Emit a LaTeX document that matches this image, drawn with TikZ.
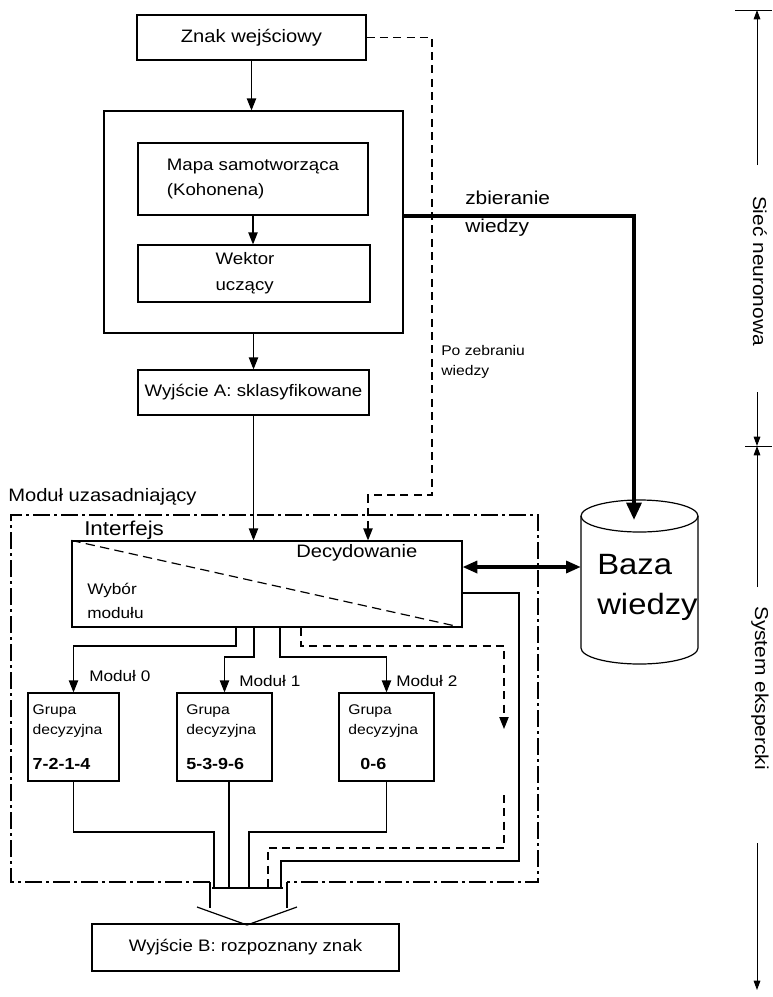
\documentclass[tikz,border=0pt]{standalone}
\usepackage{fontspec}
\setmainfont[FakeStretch=1.12]{Liberation Sans}
\usetikzlibrary{arrows.meta,calc}
\begin{document}
\begin{tikzpicture}[x=0.75pt,y=-0.75pt,
  font=\fontsize{12.5}{15}\selectfont,
  box/.style={draw, line width=0.9pt, inner sep=0pt},
  gbox/.style={draw, line width=0.9pt, minimum height=66pt, inner ysep=0pt, align=left, font=\fontsize{10.5}{15}\selectfont},
  tip/.style={-{Triangle[length=9pt,width=7pt]}},
  arr/.style={line width=0.9pt, tip},
  ln/.style={line width=0.9pt},
  dsh/.style={line width=0.9pt, dash pattern=on 6pt off 4pt},
  dashdot/.style={line width=1pt, dash pattern=on 13pt off 3pt on 2pt off 3pt},
  thickarr/.style={line width=3pt, -{Triangle[length=13pt,width=11pt]}},
  lbl/.style={inner sep=0pt},
  scl/.style={line width=0.7pt},
  stip/.style={-{Triangle[length=7pt,width=5pt]}}
]
\useasboundingbox (0,0) rectangle (772,997);

% --- nodes ---
\node[box, minimum width=171.75pt, minimum height=33.75pt, font=\fontsize{13.5}{16}\selectfont] (znak) at (251.5,37.5) {Znak wejściowy};
\node[box, minimum width=224.25pt, minimum height=166.5pt] (nn) at (253.5,222) {};
\node[box, minimum width=172.5pt, minimum height=54pt, align=left, font=\fontsize{12.5}{18.75}\selectfont] (mapa) at (253,179) {Mapa samotworząca\\(Kohonena)};
\node[box, minimum width=174pt, minimum height=42.75pt, align=left, font=\fontsize{12.5}{19.5}\selectfont] (wektor) at (254,273.5) {Wektor\\uczący\hspace*{14pt}};
\node[box, minimum width=173.25pt, minimum height=33.75pt] (wyjA) at (253.5,392.5) {Wyjście A: sklasyfikowane};
\node[box, minimum width=292.5pt, minimum height=64.5pt] (interf) at (267,584) {};

\node[gbox, minimum width=68.25pt, text width=61.25pt, inner xsep=3.5pt] (g0) at (73.5,737)
  {Grupa\\decyzyjna\\[11pt]{\fontsize{12}{15}\selectfont\bfseries 7-2-1-4}};
\node[gbox, minimum width=71.25pt, text width=57.25pt, inner xsep=7pt] (g1) at (224.5,737)
  {Grupa\\decyzyjna\\[11pt]{\fontsize{12}{15}\selectfont\bfseries 5-3-9-6}};
\node[gbox, minimum width=71.25pt, text width=57.25pt, inner xsep=7pt] (g2) at (386.5,737)
  {Grupa\\decyzyjna\\[11pt]{\fontsize{12}{15}\selectfont\bfseries\hspace*{9pt}0-6}};

\node[box, minimum width=230.25pt, minimum height=35.25pt] (wyjB) at (245.5,947.5) {Wyjście B: rozpoznany znak};

\node[inner sep=0pt, minimum width=87.75pt, minimum height=123pt] (cyl) at (639.5,582) {};
\draw[ln] (581,516) -- (581,648) arc[start angle=180,end angle=360,x radius=43.875pt,y radius=12pt] -- (698,516);
\draw[ln] (639.5,516) ellipse [x radius=43.875pt, y radius=12pt];
\node[lbl, align=left, anchor=west, font=\fontsize{22}{30}\selectfont] (baza) at (597,587) {Baza\\wiedzy};

% --- labels ---
\node[lbl, anchor=west, align=left, font=\fontsize{14}{21}\selectfont] (zb) at (465,214) {zbieranie\\wiedzy};
\node[lbl, anchor=west, align=left, font=\fontsize{10.5}{15}\selectfont] (pz) at (441,362) {Po zebraniu\\wiedzy};
\node[lbl, anchor=west, font=\fontsize{13.5}{16}\selectfont] (mu) at (8,497) {Moduł uzasadniający};
\node[lbl, anchor=west, font=\fontsize{15}{18}\selectfont] (itf) at (84,530) {Interfejs};
\node[lbl, anchor=west, font=\fontsize{13.5}{16}\selectfont] (dec) at (296,553) {Decydowanie};
\node[lbl, anchor=west, align=left, font=\fontsize{11.5}{18}\selectfont] (wyb) at (87,601) {Wybór\\modułu};
\node[lbl, anchor=west, font=\fontsize{11.5}{14}\selectfont] (m0) at (89,676) {Moduł 0};
\node[lbl, anchor=west, font=\fontsize{11.5}{14}\selectfont] (m1) at (239,681) {Moduł 1};
\node[lbl, anchor=west, font=\fontsize{11.5}{14}\selectfont] (m2) at (396,681) {Moduł 2};
\node[lbl, rotate=-90, font=\fontsize{14}{16}\selectfont] (sn) at (760,271) {Sieć neuronowa};
\node[lbl, rotate=-90, font=\fontsize{14}{16}\selectfont] (se) at (760,688) {System ekspercki};

% --- frame ---
\draw[dashdot] (210,882) -- (11,882) -- (11,515) -- (538,515) -- (538,882) -- (287,882);

% --- diagonal in interface ---
\draw[line width=0.9pt, dash pattern=on 7pt off 4pt] (interf.north west) -- (interf.south east);

% --- connectors ---
\draw[arr] (znak.south) -- (znak.south |- nn.north);
\coordinate (dA) at (432,495);
\coordinate (dB) at (368,495);
\draw[dsh, tip] (znak.east) -| (dA) -- (dB) -- (dB |- interf.north);
\draw[arr] (mapa.south) -- (mapa.south |- wektor.north);
\draw[arr] (nn.south) -- (nn.south |- wyjA.north);
\draw[arr] (wyjA.south) -- (wyjA.south |- interf.north);
\coordinate (kb) at (634,520);
\draw[thickarr] (mapa.south -| nn.east) -| (kb);
\coordinate (da) at ($(interf.east)+(0,-17)$);
\draw[line width=2.4pt, {Triangle[length=11pt,width=9pt]}-{Triangle[length=11pt,width=9pt]}] (da) -- (da -| cyl.west);

\coordinate (sb) at ($(interf.east)+(0,9)$);
\coordinate (s1) at (519,861);
\coordinate (s2) at (281,888);
\draw[ln] (sb) -| (s1) -| (s2);

\coordinate (q0) at (301,646);
\coordinate (q1) at (504,729);
\draw[dsh, tip] (q0 |- interf.south) -- (q0) -| (q1);
\coordinate (q2) at (504,795);
\coordinate (q4) at (268,848);
\coordinate (q3) at (268,888);
\draw[dsh] (q2) |- (q4) -- (q3);

\coordinate (b0) at (236,646);
\coordinate (b1) at (254,657);
\coordinate (b2) at (280,657);
\draw[arr] (b0 |- interf.south) -- (b0) -| (g0.north);
\draw[arr] (b1 |- interf.south) -- (b1) -| (g1.north);
\draw[arr] (b2 |- interf.south) -- (b2) -| (g2.north);

\coordinate (h0) at (75,832);
\coordinate (o0) at (214,888);
\coordinate (o1) at (229,888);
\coordinate (o2) at (249,888);
\draw[ln] (g0.south) -- (g0.south |- h0) -| (o0);
\draw[ln] (o1 |- g1.south) -- (o1);
\draw[ln] (g2.south) -- (g2.south |- h0) -| (o2);

% --- merge arrow ---
\draw[ln] (212,888) -- (283,888);
\draw[ln] (210,882) -- (210,908);
\draw[ln] (287,882) -- (287,908);
\draw[ln] (197,907) -- (247,925) -- (297,907);

% --- right scale ---
\draw[scl] (735,10) -- (772,10);
\draw[scl, stip] (757,165) -- (757,10);
\draw[scl, stip] (757,392) -- (757,446);
\draw[scl, stip] (757,587) -- (757,446);
\draw[scl] (745,446) -- (772,446);
\draw[scl, stip] (757,843) -- (757,990);
\end{tikzpicture}
\end{document}
